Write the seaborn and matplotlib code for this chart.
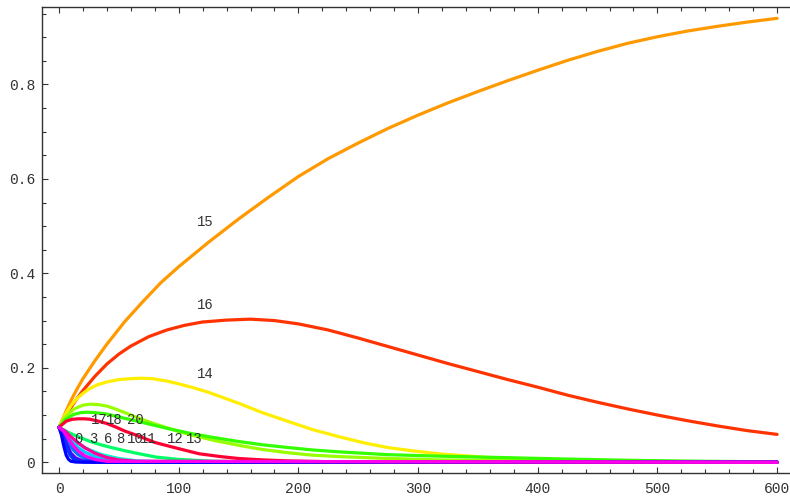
import pandas as pd
import matplotlib
matplotlib.use("Agg")
import matplotlib.pyplot as plt
import seaborn as sns
from matplotlib.ticker import MultipleLocator, FuncFormatter

# Courbes (x, y) - une liste par courbe
x_orange = [0, 5, 10, 15, 20, 30, 40, 55, 70, 85, 100, 125, 150, 175, 200, 225, 250, 275, 300, 325, 350,
            375, 400, 425, 450, 475, 500, 525, 550, 575, 600]
y_orange = [0.074, 0.103, 0.131, 0.155, 0.177, 0.215, 0.250, 0.298, 0.340, 0.380, 0.414, 0.466, 0.515, 0.561,
            0.605, 0.643, 0.676, 0.707, 0.735, 0.761, 0.785, 0.808, 0.830, 0.851, 0.870, 0.887, 0.901, 0.913,
            0.923, 0.932, 0.940]

x_redorange = [0, 5, 10, 15, 20, 30, 40, 50, 60, 75, 90, 105, 120, 140, 160, 180, 200, 225, 250, 275, 300,
               325, 350, 375, 400, 425, 450, 475, 500, 525, 550, 575, 600]
y_redorange = [0.074, 0.095, 0.116, 0.135, 0.152, 0.182, 0.208, 0.229, 0.246, 0.266, 0.280, 0.290, 0.297,
               0.301, 0.303, 0.300, 0.293, 0.280, 0.263, 0.245, 0.227, 0.209, 0.192, 0.175, 0.159, 0.142,
               0.127, 0.113, 0.100, 0.088, 0.077, 0.067, 0.059]

x_yellow = [0, 5, 10, 15, 20, 25, 32, 40, 50, 60, 68, 78, 90, 100, 112, 125, 137, 150, 170, 192, 212, 234,
            255, 275, 296, 317, 338, 359, 390, 420, 450, 480, 540, 600]
y_yellow = [0.074, 0.100, 0.120, 0.135, 0.146, 0.155, 0.164, 0.170, 0.175, 0.177, 0.178, 0.177, 0.172,
            0.166, 0.158, 0.148, 0.137, 0.125, 0.105, 0.086, 0.069, 0.054, 0.041, 0.031, 0.024, 0.018,
            0.014, 0.010, 0.007, 0.005, 0.003, 0.002, 0.001, 0.0005]

x_yellowgreen = [0, 5, 12, 20, 26, 33, 40, 48, 55, 67, 78, 90, 100, 110, 130, 150, 170, 192, 212, 234, 275,
                 317, 359, 420, 480, 600]
y_yellowgreen = [0.074, 0.095, 0.112, 0.121, 0.123, 0.122, 0.119, 0.112, 0.105, 0.093, 0.083, 0.073, 0.065,
                 0.058, 0.046, 0.036, 0.027, 0.020, 0.015, 0.012, 0.008, 0.005, 0.004, 0.002, 0.001, 0.0005]

x_green = [0, 5, 12, 18, 23, 30, 40, 55, 67, 80, 90, 110, 130, 150, 170, 192, 212, 234, 255, 275, 296, 317,
           359, 420, 480, 540, 600]
y_green = [0.074, 0.090, 0.101, 0.105, 0.106, 0.105, 0.102, 0.093, 0.086, 0.078, 0.072, 0.061, 0.052, 0.044,
           0.037, 0.031, 0.026, 0.022, 0.019, 0.016, 0.0145, 0.013, 0.0106, 0.007, 0.004, 0.002, 0.001]

x_red = [0, 6, 11, 16, 21, 26, 33, 40, 48, 55, 65, 80, 95, 117, 135, 150, 170, 190, 230, 300, 600]
y_red = [0.074, 0.087, 0.091, 0.092, 0.092, 0.091, 0.087, 0.082, 0.074, 0.066, 0.057, 0.042, 0.032, 0.018,
         0.012, 0.008, 0.005, 0.003, 0.001, 0.0, 0.0]

x_springgreen = [0, 8, 16, 26, 35, 44, 54, 65, 81, 100, 130, 170, 600]
y_springgreen = [0.074, 0.063, 0.054, 0.044, 0.037, 0.031, 0.025, 0.019, 0.011, 0.006, 0.002, 0.0005, 0.0]

x_aqua = [0, 5, 10, 16, 21, 26, 36, 50, 65, 85, 600]
y_aqua = [0.074, 0.064, 0.053, 0.040, 0.032, 0.026, 0.016, 0.008, 0.003, 0.001, 0.0]

x_cyan = [0, 5, 10, 16, 22, 30, 40, 55, 70, 600]
y_cyan = [0.074, 0.060, 0.045, 0.031, 0.021, 0.012, 0.006, 0.002, 0.0005, 0.0]

x_azure = [0, 4, 8, 12, 16, 22, 30, 40, 600]
y_azure = [0.074, 0.058, 0.040, 0.026, 0.016, 0.008, 0.003, 0.001, 0.0]

x_violet = [0, 3, 6, 10, 14, 20, 28, 600]
y_violet = [0.074, 0.060, 0.040, 0.019, 0.009, 0.003, 0.001, 0.0]

x_blue = [0, 3, 6, 9, 12, 16, 22, 30, 600]
y_blue = [0.074, 0.056, 0.033, 0.016, 0.007, 0.003, 0.001, 0.0, 0.0]

x_darkblue = [0, 2, 4, 6, 8, 10, 14, 20, 600]
y_darkblue = [0.074, 0.058, 0.034, 0.015, 0.006, 0.002, 0.0005, 0.0, 0.0]

x_pink = [0, 5, 10, 16, 22, 30, 40, 50, 65, 600]
y_pink = [0.074, 0.066, 0.054, 0.041, 0.030, 0.019, 0.010, 0.005, 0.002, 0.0]

x_magenta = [0, 4, 8, 12, 16, 22, 30, 40, 600]
y_magenta = [0.074, 0.065, 0.049, 0.035, 0.024, 0.013, 0.006, 0.002, 0.0]

# ordre de tracé -> couleur
curves = [
    ('orange', x_orange, y_orange, '#ff9900'),
    ('redorange', x_redorange, y_redorange, '#ff3300'),
    ('yellow', x_yellow, y_yellow, '#ffee00'),
    ('yellowgreen', x_yellowgreen, y_yellowgreen, '#99ff00'),
    ('green', x_green, y_green, '#33ff00'),
    ('red', x_red, y_red, '#ff0033'),
    ('springgreen', x_springgreen, y_springgreen, '#00ff66'),
    ('aqua', x_aqua, y_aqua, '#00ffcc'),
    ('cyan', x_cyan, y_cyan, '#00ccff'),
    ('azure', x_azure, y_azure, '#0077ff'),
    ('violet', x_violet, y_violet, '#5500ff'),
    ('blue', x_blue, y_blue, '#0033ff'),
    ('darkblue', x_darkblue, y_darkblue, '#0000ff'),
    ('pink', x_pink, y_pink, '#ff0099'),
    ('magenta', x_magenta, y_magenta, '#ff00ee'),
]

# étiquettes des courbes
label_text = ['15', '16', '14', '17', '18', '20', '0', '3', '6', '8', '10', '11', '12', '13']
label_x = [122, 122, 122, 33.5, 46, 63.5, 16.3, 28.8, 41.3, 51.5, 63.5, 74.8, 97, 112.8]
label_y = [0.509, 0.333, 0.187, 0.0895, 0.0895, 0.0895, 0.0487, 0.0487, 0.0487, 0.0487, 0.0487, 0.0487,
           0.0487, 0.0487]

rows = []
for name, xs, ys, _ in curves:
    for xv, yv in zip(xs, ys):
        rows.append({'x': xv, 'y': yv, 'curve': name})
df = pd.DataFrame(rows)
palette = {name: col for name, _, _, col in curves}

sns.set_style("ticks")
plt.rcParams['font.family'] = ['Liberation Mono', 'DejaVu Sans Mono']

fig = plt.figure(figsize=(7.9, 4.97), dpi=100)
ax = fig.add_axes([0.0535, 0.049, 0.9465, 0.936])

sns.lineplot(data=df, x='x', y='y', hue='curve', hue_order=[c[0] for c in curves],
             palette=palette, estimator=None, sort=False, linewidth=2.3, legend=False, ax=ax)

for t, xv, yv in zip(label_text, label_x, label_y):
    ax.text(xv, yv, t, ha='center', va='center', fontsize=10, color='#333333')

ax.set_xlim(-14.0, 610.8)
ax.set_ylim(-0.022, 0.963)
ax.set_xlabel('')
ax.set_ylabel('')

ax.xaxis.set_major_locator(MultipleLocator(100))
ax.xaxis.set_minor_locator(MultipleLocator(20))
ax.yaxis.set_major_locator(MultipleLocator(0.2))
ax.yaxis.set_minor_locator(MultipleLocator(0.05))
ax.yaxis.set_major_formatter(FuncFormatter(lambda v, p: f'{v:g}'))

ax.tick_params(which='both', direction='in', top=True, right=False, colors='#333333',
               labelsize=10.5, width=0.8)
ax.tick_params(which='major', length=4.5)
ax.tick_params(which='minor', length=3)
ax.tick_params(axis='x', pad=7)
ax.tick_params(axis='y', pad=5)

ax.spines['right'].set_visible(False)
for s in ['left', 'bottom', 'top']:
    ax.spines[s].set_color('#333333')
    ax.spines[s].set_linewidth(1.0)

plt.savefig('out.png', dpi=100)
